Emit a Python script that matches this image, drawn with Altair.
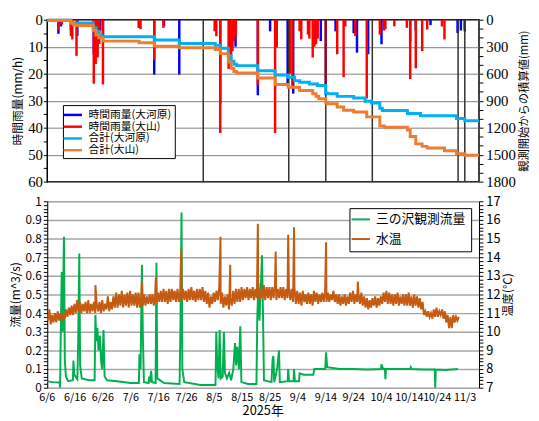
import altair as alt
import pandas as pd

# ---------------- data (x = days since 2025-06-06) ----------------
tick_days = list(range(0, 151, 10))
tick_labels = ["6/6", "6/16", "6/26", "7/6", "7/16", "7/26", "8/5", "8/15", "8/25",
               "9/4", "9/14", "9/24", "10/4", "10/14", "10/24", "11/3"]
x_title = "2025年"

top_series = ["時間雨量(大河原)", "時間雨量(大山)", "合計(大河原)", "合計(大山)"]
top_colors = ["#0000FF", "#FF0000", "#00B0F0", "#ED7D31"]
bottom_series = ["三の沢観測流量", "水温"]
bottom_colors = ["#00B050", "#C55A11"]

# hourly rainfall peaks (day, mm/h)
rain_okawara = [
    (4.0, 5.2), (4.9, 2.5), (8.5, 4.0), (10.8, 6.0), (16.7, 12.8), (17.3, 8.0), (18.0, 10.0),
    (19.0, 4.0), (20.0, 6.0), (32.9, 3.0), (38.4, 20.3), (41.9, 2.4), (47.4, 20.3), (60.5, 4.0),
    (62.1, 31.0), (65.4, 18.0), (67.6, 10.0), (75.6, 28.0), (80.0, 4.3), (86.3, 24.3),
    (88.3, 27.4), (98.2, 7.9), (100.0, 28.0), (103.5, 4.3), (110.0, 5.0), (111.2, 12.2),
    (115.2, 12.8), (120.0, 9.1), (130.3, 8.0), (132.3, 4.0), (137.6, 2.0), (147.3, 4.9),
    (148.5, 4.0), (149.9, 4.3)]
rain_oyama = [
    (4.0, 3.8), (5.2, 1.8), (8.5, 6.1), (9.0, 7.3), (10.5, 13.4), (16.7, 23.7), (17.4, 16.4),
    (18.1, 14.0), (18.7, 9.0), (20.0, 24.0), (32.9, 3.0), (33.5, 3.5), (38.4, 15.0), (41.7, 3.0),
    (60.1, 4.3), (60.7, 6.1), (62.1, 42.0), (65.1, 18.2), (66.0, 15.2), (66.5, 11.6), (67.1, 8.0),
    (67.7, 6.0), (75.6, 24.3), (81.8, 42.0), (82.4, 10.3), (87.1, 20.0), (88.0, 25.5), (90.6, 4.3),
    (91.2, 7.3), (93.6, 5.5), (94.1, 7.0), (95.3, 14.0), (95.9, 10.0), (96.5, 9.1), (97.1, 7.0),
    (100.0, 25.0), (104.1, 12.8), (106.4, 21.3), (107.0, 2.5), (110.6, 6.0), (114.7, 29.2),
    (119.4, 5.5), (120.9, 4.0), (121.4, 3.5), (124.6, 2.4), (129.1, 3.0), (130.3, 22.0),
    (132.3, 18.0), (134.6, 11.6), (136.4, 3.6), (141.7, 2.5), (142.6, 7.3), (149.9, 3.5)]

# cumulative rainfall since observation start (day, mm) - step levels
cum_okawara = [
    (0, 6), (8.5, 36), (16.5, 90), (17.5, 130), (18.5, 170), (19.5, 189), (38.4, 225),
    (47.4, 264), (60.3, 285), (62.1, 318), (65.0, 400), (66.0, 460), (67.0, 495), (68.0, 510),
    (75.6, 567), (81.8, 615), (86.5, 640), (88.8, 677), (90.6, 695), (94.1, 715), (97.0, 732),
    (100.0, 815), (100.5, 823), (104.1, 852), (110.0, 870), (114.1, 907), (116.4, 925),
    (119.4, 985), (120.3, 1010), (129.3, 1043), (134.0, 1068), (146.9, 1098), (149.9, 1123),
    (155, 1123)]
cum_oyama = [
    (0, 6), (8.5, 40), (9.5, 60), (10.5, 65), (16.5, 120), (17.5, 170), (18.5, 200), (20.0, 238),
    (33.0, 256), (38.4, 293), (47.4, 311), (60.3, 330), (62.1, 377), (65.0, 470), (66.0, 540),
    (67.0, 575), (68.0, 593), (75.6, 648), (81.8, 721), (86.5, 750), (90.6, 787), (95.3, 823),
    (96.5, 850), (97.5, 878), (100.0, 925), (100.5, 933), (104.1, 970), (106.4, 1006),
    (110.0, 1025), (114.7, 1080), (119.4, 1182), (121.0, 1196), (129.3, 1226), (130.3, 1298),
    (132.3, 1380), (134.6, 1408), (136.4, 1427), (142.6, 1457), (146.9, 1490), (149.9, 1507),
    (155, 1507)]

# dark vertical marker lines in the rainfall panel (days)
marker_days = [56.0, 86.7, 100.0, 116.7, 147.5, 149.9]

# discharge (day, m^3/s)
flow_points = [
    (0, 0.034), (2, 0.03), (4.4, 0.028), (4.6, 0.0), (4.8, 0.24), (5.2, 0.62), (5.5, 0.3),
    (6.0, 0.81), (6.3, 0.15), (6.7, 0.06), (7.5, 0.035), (9.2, 0.04), (9.4, 0.146), (9.7, 0.07),
    (10.8, 0.045), (11.1, 0.24), (11.5, 0.72), (11.8, 0.12), (12.4, 0.05), (15, 0.04),
    (17.0, 0.04), (17.3, 0.39), (17.6, 0.25), (18.0, 0.32), (18.4, 0.2), (18.9, 0.28),
    (19.3, 0.15), (19.7, 0.1), (20.2, 0.31), (20.6, 0.06), (21.5, 0.04), (25, 0.035),
    (30, 0.025), (32.9, 0.025), (33.1, 0.18), (33.5, 0.1), (34.0, 0.66), (34.3, 0.3),
    (34.7, 0.03), (36.4, 0.025), (36.6, 0.06), (36.9, 0.03), (37.3, 0.09), (37.6, 0.03),
    (38.9, 0.025), (39.2, 0.67), (39.5, 0.05), (42, 0.025), (47.5, 0.02), (47.8, 0.3),
    (48.2, 0.94), (48.5, 0.1), (49.2, 0.03), (55, 0.015), (60.4, 0.015), (60.7, 0.3),
    (61.0, 0.13), (61.5, 0.05), (61.9, 0.31), (62.3, 0.05), (63.0, 0.06), (63.4, 0.3),
    (63.8, 0.08), (64.5, 0.05), (65.3, 0.08), (66.0, 0.04), (66.8, 0.1), (67.4, 0.24),
    (67.8, 0.12), (68.2, 0.22), (68.8, 0.1), (69.3, 0.33), (69.7, 0.03), (72, 0.02),
    (75.1, 0.02), (75.4, 0.37), (75.8, 0.56), (76.2, 0.36), (77.1, 0.71), (77.4, 0.45),
    (77.8, 0.04), (80.5, 0.03), (80.9, 0.15), (81.2, 0.17), (81.5, 0.03), (82.5, 0.1),
    (83.2, 0.2), (83.5, 0.03), (86.3, 0.035), (86.5, 0.1), (86.8, 0.035), (88.4, 0.035),
    (88.6, 0.1), (88.9, 0.035), (90.4, 0.035), (90.6, 0.077), (92, 0.07), (95.5, 0.07),
    (95.9, 0.1), (99.8, 0.1), (100.1, 0.19), (100.5, 0.11), (105, 0.1), (110, 0.1),
    (115, 0.098), (119.8, 0.1), (120.0, 0.125), (120.6, 0.1), (121.2, 0.1), (121.4, 0.045),
    (121.6, 0.1), (125, 0.1), (130.3, 0.1), (130.5, 0.11), (130.8, 0.1), (135, 0.098),
    (139.1, 0.098), (139.3, 0.0), (139.5, 0.098), (143, 0.095), (147.5, 0.1)]

# water temperature: daily low / high (deg C), day 0..147
temp_low = [
    10.6, 10.4, 10.5, 10.5, 10.6, 10.6, 10.7, 10.8, 10.9, 10.9,
    11.0, 11.1, 11.0, 11.1, 11.0, 11.0, 11.1, 11.0, 11.1, 11.0,
    11.1, 11.2, 11.1, 11.2, 11.3, 11.3, 11.4, 11.3, 11.4, 11.3,
    11.4, 11.4, 11.3, 11.3, 11.4, 11.4, 11.5, 11.5, 11.4, 11.5,
    11.6, 11.6, 11.6, 11.5, 11.6, 11.7, 11.6, 11.6, 11.6, 11.7,
    11.6, 11.7, 11.7, 11.6, 11.7, 11.7, 11.6, 11.5, 11.3, 11.5,
    11.6, 11.7, 11.5, 11.3, 11.4, 11.2, 11.4, 11.5, 11.6, 11.6,
    11.7, 11.8, 11.7, 11.8, 11.7, 11.8, 11.7, 11.8, 11.7, 11.8,
    11.7, 11.8, 11.7, 11.8, 11.8, 11.7, 11.8, 11.7, 11.6, 11.5,
    11.5, 11.4, 11.6, 11.5, 11.5, 11.4, 11.6, 11.5, 11.6, 11.6,
    11.6, 11.6, 11.7, 11.6, 11.5, 11.4, 11.5, 11.4, 11.5, 11.6,
    11.5, 11.6, 11.5, 11.4, 11.3, 11.2, 11.3, 11.4, 11.3, 11.4,
    11.5, 11.6, 11.5, 11.5, 11.4, 11.5, 11.4, 11.5, 11.4, 11.4,
    11.4, 11.3, 11.4, 11.3, 11.2, 10.9, 10.8, 10.8, 10.7, 10.8,
    10.8, 10.9, 10.7, 10.5, 10.2, 10.2, 10.5, 10.6]
temp_high = [
    11.2, 10.9, 11.0, 11.1, 11.0, 11.0, 11.2, 11.3, 11.4, 11.5,
    11.7, 11.6, 11.5, 11.6, 11.7, 11.5, 11.6, 11.5, 11.6, 11.7,
    11.5, 11.9, 11.6, 11.9, 12.1, 12.0, 12.2, 12.0, 12.1, 12.2,
    12.0, 12.1, 12.1, 11.9, 12.0, 11.9, 12.0, 12.0, 12.1, 12.1,
    12.2, 12.3, 12.2, 12.3, 12.3, 12.2, 12.3, 12.2, 12.3, 12.2,
    12.3, 12.4, 12.2, 12.3, 12.3, 12.4, 12.2, 12.1, 11.9, 12.1,
    12.2, 12.4, 12.1, 11.9, 12.0, 11.8, 12.2, 12.3, 12.3, 12.4,
    12.3, 12.4, 12.3, 12.4, 12.3, 12.4, 12.3, 12.5, 12.4, 12.4,
    12.4, 12.5, 12.3, 12.4, 12.4, 12.3, 12.4, 12.3, 12.4, 12.2,
    12.1, 12.2, 12.0, 12.1, 12.0, 12.2, 12.1, 12.0, 12.1, 12.1,
    12.1, 12.0, 12.2, 12.0, 12.0, 11.9, 12.0, 11.9, 12.1, 12.2,
    12.0, 12.0, 12.1, 11.9, 11.8, 11.7, 11.8, 11.9, 11.8, 11.9,
    12.1, 12.2, 12.1, 12.0, 12.0, 12.1, 11.9, 12.0, 12.0, 12.1,
    11.9, 12.0, 11.9, 11.8, 11.6, 11.1, 11.1, 11.0, 11.2, 11.3,
    11.1, 11.2, 11.1, 10.9, 10.8, 10.9, 10.8, 10.8]
temp_spikes = [
    (17.3, 12.5), (34.0, 12.7), (39.0, 12.9), (48.1, 14.45), (62.2, 15.1), (65.7, 13.6),
    (75.6, 15.8), (82.0, 14.3), (86.5, 15.2), (88.6, 15.6), (100.1, 14.8), (111.5, 12.7)]

# ---------------- tables ----------------
rain_rows = [dict(day=d, rain=v, base=0, series=top_series[0]) for d, v in rain_okawara]
rain_rows += [dict(day=d, rain=v, base=0, series=top_series[1]) for d, v in rain_oyama]
rain_df = pd.DataFrame(rain_rows)

cum_rows = [dict(day=d, cum=v, series=top_series[2]) for d, v in cum_okawara]
cum_rows += [dict(day=d, cum=v, series=top_series[3]) for d, v in cum_oyama]
cum_df = pd.DataFrame(cum_rows)

marker_df = pd.DataFrame({"day": marker_days})

flow_df = pd.DataFrame([dict(day=d, val=v, series=bottom_series[0]) for d, v in flow_points])

temp_rows = []
for i, (lo, hi) in enumerate(zip(temp_low, temp_high)):
    temp_rows.append(dict(day=i + 0.25, val=lo))
    temp_rows.append(dict(day=i + 0.75, val=hi))
for d, v in temp_spikes:
    temp_rows.append(dict(day=d, val=v))
temp_df = pd.DataFrame(temp_rows).sort_values("day")
temp_df["series"] = bottom_series[1]

xlab_df = pd.DataFrame({"day": tick_days, "label": tick_labels})
xtitle_df = pd.DataFrame({"label": [x_title]})

# ---------------- helpers ----------------
JP = "Noto Sans CJK JP"
SERIF = "Liberation Serif"
TOP_H = 165
BOT_H = 190
PLOT_W = 440


def cond(test, a, b):
    return {"condition": {"test": test, "value": a}, "value": b}


x_dom = alt.Scale(domain=[0, 155], nice=False, zero=False)

# ---------------- top panel ----------------
top_color = alt.Color(
    "series:N",
    scale=alt.Scale(domain=top_series, range=top_colors),
    legend=alt.Legend(
        orient="none", legendX=16, legendY=87, title=None,
        fillColor="white", strokeColor="black", padding=3,
        symbolType="M-1.7,0H1.7", symbolSize=121, symbolStrokeWidth=2.5,
        labelFont=JP, labelFontSize=11, labelOffset=9, rowPadding=0,
        labelColor="black"),
)

rain = alt.Chart(rain_df).mark_rule(strokeWidth=2.5).encode(
    x=alt.X("day:Q", scale=x_dom,
            axis=alt.Axis(values=tick_days, labels=False, ticks=False, domain=False,
                          title=None, grid=True, gridColor="#A6A6A6", gridWidth=1.5)),
    y=alt.Y("base:Q", scale=alt.Scale(domain=[0, 60], reverse=True, nice=False),
            axis=alt.Axis(
                orient="left", values=list(range(0, 61, 5)), title="時間雨量(mm/h)",
                labelExpr="datum.value % 10 == 0 ? datum.label : ''",
                tickSize=4,
                gridOpacity=cond("datum.value % 10 == 0", 1, 0),
                gridColor="#808080", gridWidth=1, domain=False, tickColor="black",
                labelFont=SERIF, labelFontSize=15, labelPadding=1, labelColor="black",
                titleFont=JP, titleFontSize=12, titleFontWeight="normal",
                titleColor="black", titlePadding=3)),
    y2="rain:Q",
    color=top_color,
)

markers = alt.Chart(marker_df).mark_rule(color="#303030", strokeWidth=1.5).encode(
    x=alt.X("day:Q", axis=None))

cum = alt.Chart(cum_df).mark_line(strokeWidth=3, interpolate="step-after").encode(
    x=alt.X("day:Q", axis=None),
    y=alt.Y("cum:Q", scale=alt.Scale(domain=[0, 1800], reverse=True, nice=False),
            axis=alt.Axis(
                orient="right", values=list(range(0, 1801, 100)), format="d",
                title="観測開始からの積算値(mm)",
                labelExpr="datum.value % 300 == 0 ? datum.label : ''",
                tickSize=4, grid=False, domain=False, tickColor="black",
                labelFont=SERIF, labelFontSize=15, labelPadding=3, labelColor="black",
                titleFont=JP, titleFontSize=11.5, titleFontWeight="normal",
                titleColor="black", titleAngle=270, titleBaseline="top",
                titlePadding=3)),
    color=top_color,
)

top = alt.layer(rain, markers, cum).resolve_scale(y="independent").properties(
    width=PLOT_W, height=TOP_H, view=alt.ViewBackground(stroke="black", strokeWidth=1.5))

# ---------------- bottom panel ----------------
bottom_color = alt.Color(
    "series:N",
    scale=alt.Scale(domain=bottom_series, range=bottom_colors),
    legend=alt.Legend(
        orient="none", legendX=308, legendY=7, title=None,
        fillColor="white", strokeColor="black", padding=5,
        symbolType="M-1.7,0H1.7", symbolSize=121, symbolStrokeWidth=2,
        labelFont=JP, labelFontSize=13, labelOffset=9, rowPadding=6,
        labelColor="black"),
)

flow_values = [round(i * 0.02, 2) for i in range(51)]
is_tenth = "abs(datum.value*10 - round(datum.value*10)) < 0.001"

temp_values = [round(7 + i * 0.2, 1) for i in range(51)]
is_int = "abs(datum.value - round(datum.value)) < 0.001"

flow = alt.Chart(flow_df).mark_line(strokeWidth=2).encode(
    x=alt.X("day:Q", scale=x_dom,
            axis=alt.Axis(values=tick_days, labels=False, title=None, tickSize=4,
                          gridColor="#A6A6A6", gridWidth=1.5, domainColor="black",
                          tickColor="black")),
    y=alt.Y("val:Q", scale=alt.Scale(domain=[0, 1], nice=False),
            axis=alt.Axis(
                orient="left", values=flow_values, title="流量(m^3/s)",
                labelExpr=is_tenth + " ? format(datum.value, '~g') : ''",
                tickSize=4, gridOpacity=cond(is_tenth, 1, 0),
                gridColor="#A6A6A6", gridWidth=1.5, domainColor="black", tickColor="black",
                labelFont=JP, labelFontSize=12, labelPadding=2, labelColor="black",
                titleFont=JP, titleFontSize=12, titleFontWeight="normal",
                titleColor="black", titlePadding=3)),
    color=bottom_color,
)

temp = alt.Chart(temp_df).mark_line(strokeWidth=2).encode(
    x=alt.X("day:Q", axis=None),
    y=alt.Y("val:Q", scale=alt.Scale(domain=[7, 17], nice=False, zero=False),
            axis=alt.Axis(
                orient="right", values=temp_values, title="温度(℃)",
                labelExpr=is_int + " ? format(datum.value, 'd') : ''",
                tickSize=4, grid=False,
                domainColor="black", tickColor="black",
                labelFont=JP, labelFontSize=13, labelPadding=3, labelColor="black",
                titleFont=JP, titleFontSize=12, titleFontWeight="normal",
                titleColor="black", titleAngle=270, titleBaseline="top",
                titlePadding=3)),
    color=bottom_color,
)

# date tick labels and the axis title, placed through the x scale below the plot
xlabels = alt.Chart(xlab_df).mark_text(
    baseline="top", align="center", font=JP, fontSize=11, color="black", dy=0).encode(
    x=alt.X("day:Q", axis=None),
    y=alt.value(BOT_H + 5),
    text="label:N",
)
xtitle = alt.Chart(xtitle_df).mark_text(
    baseline="top", align="center", font=JP, fontSize=13, color="black").encode(
    x=alt.value(PLOT_W / 2),
    y=alt.value(BOT_H + 18),
    text="label:N",
)

bottom = alt.layer(flow, temp, xlabels, xtitle).resolve_scale(y="independent").properties(
    width=PLOT_W, height=BOT_H)

chart = alt.vconcat(top, bottom, spacing=4).resolve_scale(
    x="independent", color="independent").resolve_legend(
    color="independent").properties(padding=0).configure_view(
    stroke=None).configure(background="white")

chart.save("out.html", embed_options={"renderer": "svg", "actions": False})
